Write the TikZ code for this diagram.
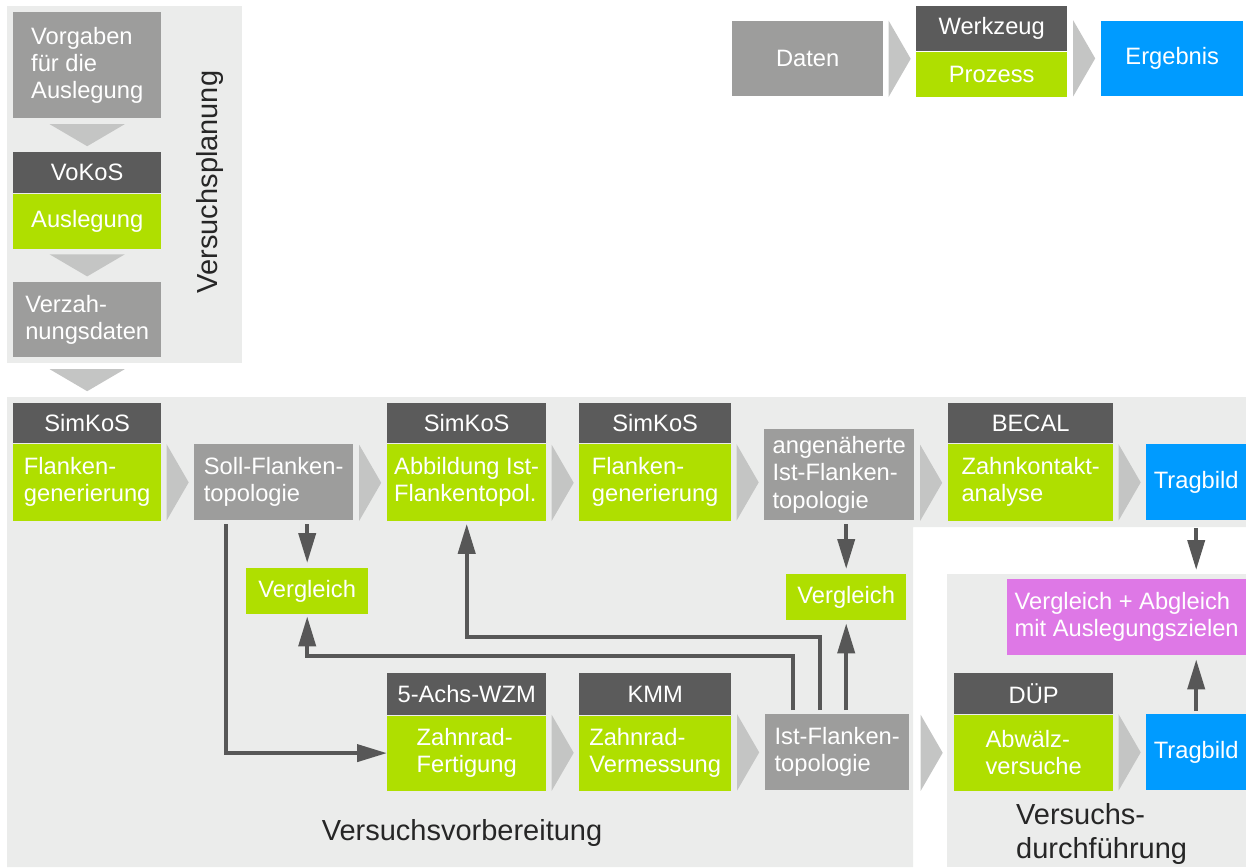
\documentclass[tikz,border=0pt]{standalone}
\usepackage{fontspec}
\setmainfont{Liberation Sans}
\usetikzlibrary{positioning, calc}
\usetikzlibrary{arrows.meta}

\definecolor{panelgray}{HTML}{EBECEB}
\definecolor{hdrgray}{HTML}{5B5B5B}
\definecolor{toolgreen}{HTML}{AFDF00}
\definecolor{datagray}{HTML}{9D9D9C}
\definecolor{chevgray}{HTML}{C4C5C4}
\definecolor{resultblue}{HTML}{009BFF}
\definecolor{targetpink}{HTML}{DE78E6}
\definecolor{arrowgray}{HTML}{575757}
\definecolor{labeltext}{HTML}{262626}

\tikzstyle{cell} = [rectangle, inner sep=0pt, anchor=north west, text=white, align=left, font=\fontsize{23.7}{27.3}\selectfont]
\tikzstyle{hdrbox} = [cell, fill=hdrgray, align=center]
\tikzstyle{toolbox} = [cell, fill=toolgreen]
\tikzstyle{datbox} = [cell, fill=datagray]
\tikzstyle{resbox} = [cell, fill=resultblue, align=center]
\tikzstyle{flow} = [line width=4pt, draw=arrowgray, -{Triangle[length=30pt,width=17pt]}]
\tikzstyle{chev} = [fill=chevgray]
\tikzstyle{phase} = [inner sep=0pt, text=labeltext, align=left, font=\fontsize{29}{34}\selectfont]

% grey chevron in the gap between two boxes (left to right / top to bottom)
\newcommand{\chevr}[2]{%
  \coordinate (m) at ($(#1.east)!.5!(#2.west)$);
  \fill[chev] ($(m |- #2.south)+(-11,0)$) -- ($(m |- #2.south)+(-11,-76)$) -- ($(m |- #2.south)+(11,-38)$) -- cycle;}
\newcommand{\chevd}[2]{%
  \coordinate (m) at ($(#1.south)!.5!(#2.north)$);
  \fill[chev] ($(m)+(-37.5,-11)$) -- ($(m)+(37.5,-11)$) -- ($(m)+(0,11)$) -- cycle;}

\begin{document}
\begin{tikzpicture}[x=1pt,y=-1pt]
        \useasboundingbox (0,0) rectangle (1246,867);
        % phase panels
        \fill[panelgray] (7,6) rectangle (242,363);
        \fill[panelgray] (7,397) -- (1246,397) -- (1246,527) -- (913,527) -- (913,867) -- (7,867) -- cycle;
        \fill[panelgray] (947,574) rectangle (1246,867);

        % legend
        \node (daten) [datbox, minimum width=151, minimum height=75, align=center] at (732,21) {Daten};
        \node (werkzeug) [hdrbox, minimum width=151, minimum height=45] at (916,6) {Werkzeug};
        \node (prozess) [toolbox, minimum width=151, minimum height=45, align=center, below=0pt of werkzeug] {Prozess};
        \node (ergebnis) [resbox, minimum width=142, minimum height=75] at (1101,21) {Ergebnis};
        \chevr{daten}{prozess}
        \chevr{prozess}{ergebnis}

        % Versuchsplanung
        \node (vorgaben) [datbox, minimum width=148, minimum height=106] at (13,12) {Vorgaben\\f\"ur die\\Auslegung};
        \node (vokos) [hdrbox, minimum width=148, minimum height=41] at (13,152) {VoKoS};
        \node (auslegung) [toolbox, minimum width=148, minimum height=55, align=center, below=0pt of vokos] {Auslegung};
        \node (verzahnung) [datbox, minimum width=148, minimum height=75] at (13,282) {Verzah-\\nungsdaten};
        \node (planung) [phase, rotate=90] at (210,182) {Versuchsplanung};
        \chevd{vorgaben}{vokos}
        \chevd{auslegung}{verzahnung}

        % Versuchsvorbereitung: upper row
        \node (simkosA) [hdrbox, minimum width=148, minimum height=40] at (13,403) {SimKoS};
        \node (flankenA) [toolbox, minimum width=148, minimum height=77, below=0pt of simkosA] {Flanken-\\generierung};
        \node (soll) [datbox, minimum width=159, minimum height=76] at (194,444) {Soll-Flanken-\\topologie};
        \node (simkosB) [hdrbox, minimum width=159, minimum height=40] at (387,403) {SimKoS};
        \node (abbildung) [toolbox, minimum width=159, minimum height=77, below=0pt of simkosB] {Abbildung Ist-\\Flankentopol.};
        \node (simkosC) [hdrbox, minimum width=152, minimum height=40] at (579,403) {SimKoS};
        \node (flankenC) [toolbox, minimum width=152, minimum height=77, below=0pt of simkosC] {Flanken-\\generierung};
        \node (angen) [datbox, minimum width=150, minimum height=91] at (764,429) {angen\"aherte\\Ist-Flanken-\\topologie};
        \node (becal) [hdrbox, minimum width=165, minimum height=40] at (948,403) {BECAL};
        \node (zka) [toolbox, minimum width=165, minimum height=77, below=0pt of becal] {Zahnkontakt-\\analyse};
        \node (tragA) [resbox, minimum width=100, minimum height=76] at (1146,444) {Tragbild};
        \chevd{verzahnung}{simkosA}
        \chevr{flankenA}{soll}
        \chevr{soll}{abbildung}
        \chevr{abbildung}{flankenC}
        \chevr{flankenC}{angen}
        \chevr{angen}{zka}
        \chevr{zka}{tragA}

        % comparisons
        \node (vglA) [toolbox, minimum width=122, minimum height=46, align=center] at (246,568) {Vergleich};
        \node (vglB) [toolbox, minimum width=120, minimum height=46, align=center] at (786,574) {Vergleich};

        % Versuchsvorbereitung: lower row
        \node (wzm) [hdrbox, minimum width=159, minimum height=42] at (387,673) {5-Achs-WZM};
        \node (fertigung) [toolbox, minimum width=159, minimum height=75, below=0pt of wzm] {Zahnrad-\\Fertigung};
        \node (kmm) [hdrbox, minimum width=152, minimum height=42] at (579,673) {KMM};
        \node (vermessung) [toolbox, minimum width=152, minimum height=75, below=0pt of kmm] {Zahnrad-\\Vermessung};
        \node (ist) [datbox, minimum width=144, minimum height=76] at (765,714) {Ist-Flanken-\\topologie};
        \chevr{fertigung}{vermessung}
        \chevr{vermessung}{ist}
        \node (vorb) [phase] at (462,833) {Versuchsvorbereitung};

        % Versuchsdurchfuehrung
        \node (pink) [cell, fill=targetpink, minimum width=239, minimum height=76] at (1007,579) {Vergleich + Abgleich\\mit Auslegungszielen};
        \node (duep) [hdrbox, minimum width=159, minimum height=41] at (954,673) {D\"UP};
        \node (abwaelz) [toolbox, minimum width=159, minimum height=76, below=0pt of duep] {Abw\"alz-\\versuche};
        \node (tragB) [resbox, minimum width=100, minimum height=76] at (1146,714) {Tragbild};
        \chevr{ist}{abwaelz}
        \chevr{abwaelz}{tragB}
        \node (durch) [phase, anchor=west] at (1016,834) {Versuchs-\\durchf\"uhrung};

        % arrows
        \draw[flow, shorten <=4pt, shorten >=5pt] (vglA.north |- soll.south) -- (vglA.north);
        \draw[flow, shorten <=4pt] ($(soll.south west)+(32,0)$) |- (fertigung.west);
        \draw[flow, shorten <=4pt, shorten >=2pt] ($(ist.north west)+(28,0)$) |- ($(vglA.south)+(0,42)$) -- (vglA.south);
        \draw[flow, shorten <=4pt, shorten >=3pt] ($(ist.north west)+(55,0)$) |- ($(abbildung.south)+(0,116)$) -- (abbildung.south);
        \draw[flow, shorten <=4pt, shorten >=3pt] (vglB.south |- ist.north) -- (vglB.south);
        \draw[flow, shorten <=4pt, shorten >=5pt] (vglB.north |- angen.south) -- (vglB.north);
        \draw[flow, shorten <=8pt, shorten >=9pt] (tragA.south) -- (tragA.south |- pink.north);
        \draw[flow, shorten <=3pt, shorten >=4pt] (tragB.north) -- (tragB.north |- pink.south);
\end{tikzpicture}
\end{document}
